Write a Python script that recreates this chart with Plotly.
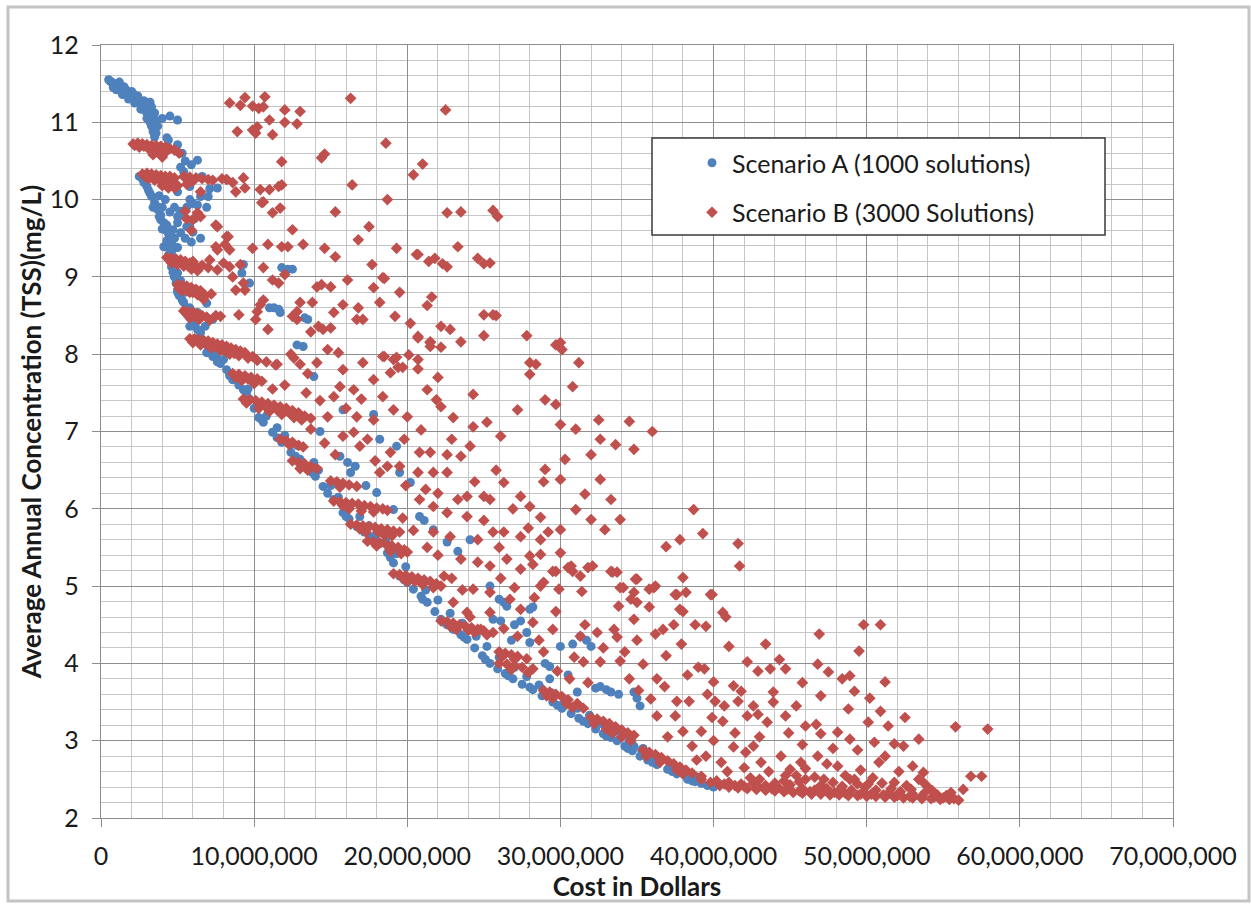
import numpy as np
import plotly.graph_objects as go

# Scenario A: (cost in millions of dollars, average annual TSS in mg/L)
scenario_a = [
    # low-cost upper band
    (0.5, 11.55), (0.6, 11.53), (0.7, 11.52), (0.8, 11.5), (0.9, 11.5), (1.0, 11.48), (1.1, 11.47),
    (1.2, 11.45), (1.3, 11.43), (1.4, 11.42), (1.5, 11.4), (1.6, 11.38), (1.7, 11.38), (1.8, 11.36),
    (1.9, 11.35), (2.0, 11.33), (2.1, 11.33), (2.2, 11.3), (2.3, 11.3), (2.4, 11.27), (2.5, 11.25),
    (2.6, 11.22), (2.7, 11.2), (2.8, 11.18), (2.9, 11.15), (3.0, 11.12), (3.1, 11.1), (3.2, 11.07),
    (3.3, 11.04), (3.4, 10.98), (3.5, 10.92), (3.6, 10.86), (1.2, 11.52), (1.6, 11.43), (2.0, 11.4),
    (2.4, 11.34), (2.8, 11.28), (3.1, 11.25), (3.3, 11.2), (3.5, 11.12), (3.2, 11.0), (3.4, 10.88),
    (3.2, 11.26), (3.6, 11.02), (3.7, 10.95),
    (0.8, 11.45), (1.0, 11.42), (1.4, 11.36), (1.8, 11.3), (2.2, 11.25), (2.6, 11.17), (3.0, 11.05),
    (3.3, 10.95), (3.5, 10.85), (2.1, 11.37), (2.7, 11.25), (1.5, 11.46),
    (4.0, 11.05), (4.5, 11.08), (5.0, 11.03), (3.5, 10.81), (4.3, 10.8), (4.4, 10.77), (5.0, 10.71),
    (5.3, 10.6), (6.3, 10.51), (5.2, 10.42), (5.4, 10.36), (5.8, 10.17), (7.1, 10.14), (7.6, 10.15),
    (6.5, 10.04), (7.0, 10.04), (5.8, 10.0), (6.3, 9.93), (6.9, 9.9), (6.0, 9.95),
    # trade-off front
    (2.5, 10.3), (2.7, 10.27), (3.0, 10.17), (3.1, 10.12), (3.3, 10.04), (3.5, 9.96), (3.6, 9.92),
    (3.7, 9.87), (3.9, 9.8), (3.9, 9.74), (4.1, 9.7), (4.2, 9.61), (4.4, 9.56), (4.5, 9.52),
    (4.1, 9.39), (4.6, 9.31), (4.6, 9.2), (4.6, 9.13), (4.8, 9.0), (4.9, 8.92), (5.0, 8.83),
    (5.3, 8.7), (5.5, 8.58), (5.8, 8.47), (6.1, 8.38), (6.5, 8.28), (6.9, 8.12), (7.3, 7.97),
    (7.8, 7.88), (8.2, 7.8), (8.6, 7.67), (9.0, 7.6), (9.3, 7.54), (9.7, 7.42), (10.0, 7.3),
    (10.3, 7.18), (10.6, 7.12), (11.2, 6.99), (11.8, 6.86), (12.4, 6.73), (13.0, 6.64), (13.5, 6.55),
    (14.0, 6.42), (14.5, 6.29), (15.2, 6.12), (15.8, 5.95), (16.2, 5.87), (16.7, 5.77), (17.2, 5.7),
    (17.6, 5.64), (18.2, 5.55), (18.7, 5.43), (19.1, 5.3), (19.5, 5.13), (20.0, 5.05), (20.4, 4.96),
    (20.9, 4.87), (21.3, 4.79), (21.8, 4.67), (22.2, 4.57), (22.6, 4.5), (23.0, 4.44), (23.5, 4.37),
    (23.9, 4.31), (24.4, 4.2), (24.9, 4.1), (25.4, 4.0), (25.9, 3.93), (26.4, 3.87), (26.9, 3.8),
    (27.5, 3.73), (28.2, 3.66), (28.8, 3.58), (29.5, 3.5), (30.1, 3.42), (30.7, 3.35), (31.2, 3.29),
    (31.8, 3.22), (32.3, 3.15), (32.8, 3.09), (33.3, 3.04), (33.7, 3.0), (34.2, 2.93), (34.7, 2.87),
    (35.2, 2.8), (35.7, 2.75), (36.3, 2.69), (37.0, 2.63), (37.6, 2.57), (38.3, 2.5), (38.8, 2.47),
    (39.2, 2.45), (39.6, 2.42), (40.0, 2.4),
    (2.8, 10.22), (3.2, 10.08), (3.4, 9.9), (3.8, 9.78), (4.0, 9.62), (4.3, 9.47), (4.4, 9.28),
    (4.7, 9.06), (5.1, 8.76), (5.6, 8.52), (6.3, 8.32), (7.1, 8.02), (7.6, 7.9), (8.4, 7.72),
    (9.5, 7.48), (10.5, 7.15), (11.5, 6.92), (12.7, 6.68), (13.8, 6.47), (14.8, 6.2), (16.0, 5.9),
    (17.0, 5.73), (17.9, 5.6), (18.9, 5.37), (19.8, 5.08), (21.0, 4.83), (22.4, 4.53), (23.7, 4.34),
    (25.1, 4.05), (26.6, 3.84), (28.0, 3.69), (29.8, 3.46), (31.5, 3.25), (33.0, 3.06), (34.4, 2.9),
    (36.0, 2.72), (37.3, 2.6), (38.6, 2.48),
    # just above the front
    (4.6, 9.45), (4.9, 9.38), (5.0, 9.05), (5.2, 8.95), (5.5, 8.8), (5.8, 8.6), (6.0, 8.54),
    (6.3, 8.45), (6.8, 8.36), (7.1, 8.06), (7.5, 8.0), (8.0, 7.93), (8.4, 7.75), (9.0, 7.7),
    (9.6, 7.55), (10.2, 7.35), (10.8, 7.2), (11.5, 7.05), (12.0, 6.95), (12.8, 6.82), (13.9, 6.6),
    (14.2, 6.5), (15.0, 6.3), (15.5, 6.15), (16.1, 6.02), (16.9, 5.9), (17.5, 5.78), (18.0, 5.68),
    (18.6, 5.58), (19.3, 5.42), (19.9, 5.25), (20.6, 5.08), (21.2, 4.95), (22.0, 4.82), (22.8, 4.65),
    (23.6, 4.52), (24.5, 4.35), (25.2, 4.22), (26.0, 4.08), (27.0, 3.95), (27.8, 3.83), (28.6, 3.72),
    (29.4, 3.62), (30.3, 3.52), (31.1, 3.42), (31.9, 3.33), (32.7, 3.22), (33.6, 3.12), (34.5, 3.0),
    (35.4, 2.9), (36.3, 2.8), (37.2, 2.7), (38.0, 2.62), (38.9, 2.53), (34.8, 2.93), (35.3, 2.88),
    (35.7, 2.84), (36.1, 2.8),
    # scattered solutions
    (9.3, 9.16), (11.8, 9.12), (12.5, 9.1), (9.2, 9.05), (9.7, 8.92), (11.0, 8.6), (11.6, 8.58),
    (11.7, 8.54), (13.3, 8.47), (13.5, 8.45), (12.8, 8.12), (13.2, 8.1), (13.9, 7.71), (15.8, 7.28),
    (17.8, 7.22), (18.2, 6.9), (19.3, 6.81), (19.5, 6.47), (20.2, 6.34), (16.1, 6.6), (16.3, 6.47),
    (18.0, 6.21), (19.1, 5.99), (20.8, 5.9), (21.7, 5.73), (22.6, 5.57), (24.1, 5.6), (25.4, 5.0),
    (26.3, 4.79), (28.0, 4.7), (25.6, 4.57), (15.6, 6.68), (26.0, 4.83), (26.5, 4.74), (26.1, 4.55),
    (27.4, 4.55), (27.8, 4.4), (28.0, 4.27), (28.2, 4.73), (29.3, 3.96), (29.3, 3.8), (30.0, 4.22),
    (30.8, 4.25), (31.1, 3.63), (31.3, 4.35), (31.7, 4.3), (32.0, 4.22), (32.6, 3.7), (33.0, 3.66),
    (33.3, 3.63), (34.8, 3.63), (35.0, 3.55), (35.2, 3.45), (4.5, 9.22), (4.8, 9.0), (5.0, 8.8),
    (5.4, 8.67), (5.9, 8.55), (6.3, 8.54), (5.8, 8.36), (6.3, 8.2), (6.9, 8.02), (7.5, 7.97),
    (4.2, 9.39), (4.6, 9.35), (5.0, 9.38), (4.2, 9.64), (4.7, 9.61), (5.2, 9.57), (5.8, 9.65),
    (6.0, 9.58), (6.5, 9.5), (4.5, 9.84), (5.0, 9.78), (5.4, 9.8), (4.3, 9.67), (5.0, 9.7),
    (5.6, 9.65), (6.9, 8.66), (7.3, 8.45),
    (4.8, 9.9), (5.2, 9.85), (5.6, 9.9), (6.1, 9.75), (5.5, 9.5), (5.9, 9.45), (4.8, 9.5),
    (3.8, 10.05), (4.2, 10.0), (4.0, 9.9), (5.5, 10.5), (5.9, 10.45), (6.6, 10.3), (5.0, 10.1),
    (12.2, 9.1), (11.3, 8.6), (14.3, 7.0), (16.6, 6.55), (17.3, 6.3), (21.1, 5.85), (23.3, 5.45),
    (27.0, 4.5), (29.0, 4.0), (30.5, 3.85), (32.3, 3.68), (33.8, 3.6), (26.8, 4.3),
]

# Scenario B: (cost in millions of dollars, average annual TSS in mg/L)
scenario_b = [
    # clustered solution bands
    (2.1, 10.72), (2.4, 10.73), (2.7, 10.72), (3.0, 10.71), (3.3, 10.7), (3.6, 10.7), (3.9, 10.69),
    (4.2, 10.68), (2.5, 10.68), (3.1, 10.66), (3.5, 10.64), (4.5, 10.66), (4.8, 10.64), (5.1, 10.6),
    (3.8, 10.6), (3.4, 10.58), (4.0, 10.55), (2.2, 10.7), (2.8, 10.69), (3.7, 10.66), (4.3, 10.63),
    (2.7, 10.33), (3.0, 10.34), (3.3, 10.33), (3.6, 10.32), (3.9, 10.31), (4.2, 10.3), (4.5, 10.3),
    (4.8, 10.28), (3.1, 10.27), (3.5, 10.25), (3.9, 10.24), (4.3, 10.22), (4.7, 10.2), (5.0, 10.18),
    (4.4, 10.15), (4.0, 10.18), (5.4, 10.3), (5.8, 10.29), (6.2, 10.28), (6.6, 10.27), (7.0, 10.26),
    (7.3, 10.25), (7.9, 10.27), (8.2, 10.26), (8.6, 10.22), (5.6, 10.2), (6.5, 10.1),
    (2.9, 10.3), (3.4, 10.29), (3.8, 10.27), (4.6, 10.25), (4.1, 10.21), (4.8, 10.15), (6.0, 10.24),
    (6.3, 9.83), (6.0, 9.74), (6.5, 9.78), (7.5, 9.67), (8.2, 9.52), (8.1, 9.42), (7.6, 9.35),
    (5.5, 9.85), (5.6, 9.75), (5.9, 9.6),
    (4.3, 9.25), (4.6, 9.24), (4.9, 9.23), (5.2, 9.22), (5.5, 9.2), (5.8, 9.18), (6.1, 9.16),
    (4.6, 9.18), (5.0, 9.16), (5.4, 9.14), (5.9, 9.1), (6.3, 9.08), (6.6, 9.15), (7.0, 9.12),
    (4.5, 9.21), (5.1, 9.19), (5.7, 9.14), (6.0, 9.2),
    (5.0, 8.9), (5.3, 8.89), (5.6, 8.88), (5.9, 8.86), (6.2, 8.84), (6.5, 8.82), (5.3, 8.82),
    (5.8, 8.8), (6.3, 8.77), (6.8, 8.76), (7.2, 8.78), (5.1, 8.85), (5.6, 8.83), (6.0, 8.8),
    (5.4, 8.56), (5.7, 8.55), (6.0, 8.54), (6.3, 8.52), (6.6, 8.5), (6.9, 8.48), (5.8, 8.47),
    (6.4, 8.45), (7.1, 8.44), (7.5, 8.5), (5.6, 8.52), (6.1, 8.49),
    (5.8, 8.2), (6.1, 8.2), (6.4, 8.19), (6.7, 8.18), (7.0, 8.17), (7.3, 8.15), (7.6, 8.13),
    (7.9, 8.12), (8.2, 8.1), (8.5, 8.08), (8.8, 8.06), (9.1, 8.04), (9.4, 8.02), (6.5, 8.12),
    (7.2, 8.08), (7.8, 8.05), (8.4, 8.0), (9.0, 7.98), (9.6, 7.95), (10.2, 7.92), (10.8, 7.9),
    (11.4, 7.86), (6.0, 8.15), (6.9, 8.13), (7.5, 8.1), (8.1, 8.04), (8.7, 8.01), (9.9, 7.97),
    (8.6, 7.75), (9.0, 7.74), (9.4, 7.72), (9.8, 7.7), (10.2, 7.68), (10.5, 7.65), (9.2, 7.66),
    (10.0, 7.62), (8.8, 7.7), (9.6, 7.68),
    (9.3, 7.42), (9.7, 7.41), (10.1, 7.4), (10.5, 7.38), (10.9, 7.36), (11.3, 7.34), (11.7, 7.32),
    (12.1, 7.3), (12.5, 7.27), (12.9, 7.24), (13.3, 7.2), (13.7, 7.17), (10.3, 7.3), (11.0, 7.26),
    (11.8, 7.22), (12.6, 7.18), (9.5, 7.37), (10.7, 7.33), (11.5, 7.28), (12.3, 7.24), (13.1, 7.15),
    (11.7, 6.9), (12.1, 6.88), (12.5, 6.86), (12.9, 6.82), (13.2, 6.8), (12.3, 6.83),
    (12.5, 6.62), (12.9, 6.6), (13.3, 6.58), (13.7, 6.55), (14.1, 6.52), (13.0, 6.52), (13.5, 6.5),
    (15.0, 6.36), (15.4, 6.35), (15.8, 6.33), (16.2, 6.31), (16.7, 6.29), (15.6, 6.28),
    (15.2, 6.1), (15.6, 6.09), (16.0, 6.08), (16.4, 6.07), (16.8, 6.06), (17.2, 6.04), (17.6, 6.03),
    (18.0, 6.01), (18.4, 6.0), (18.7, 5.98), (16.2, 6.0), (17.0, 5.97), (15.8, 6.04), (17.8, 5.96),
    (16.3, 5.8), (16.7, 5.79), (17.1, 5.78), (17.5, 5.77), (17.9, 5.76), (18.3, 5.74), (18.7, 5.73),
    (19.1, 5.71), (19.5, 5.7), (17.3, 5.7), (18.5, 5.66), (16.9, 5.74), (18.1, 5.7), (19.0, 5.65),
    (17.4, 5.58), (17.8, 5.57), (18.2, 5.56), (18.6, 5.54), (19.0, 5.52), (19.4, 5.5), (19.8, 5.47),
    (20.0, 5.44), (18.9, 5.45), (18.0, 5.52), (19.6, 5.42),
    (19.1, 5.16), (19.5, 5.15), (19.9, 5.14), (20.3, 5.12), (20.7, 5.1), (21.1, 5.08), (21.5, 5.06),
    (21.9, 5.03), (22.2, 5.0), (20.0, 5.06), (21.0, 5.02), (19.7, 5.1), (20.5, 5.06), (21.7, 4.98),
    (22.2, 4.55), (22.6, 4.54), (23.0, 4.52), (23.4, 4.5), (23.8, 4.48), (24.2, 4.46), (24.6, 4.44),
    (25.0, 4.42), (25.6, 4.4), (23.2, 4.44), (24.4, 4.4), (22.8, 4.48), (24.0, 4.43), (25.2, 4.37),
    (26.0, 4.15), (26.4, 4.13), (26.8, 4.11), (27.2, 4.09), (27.8, 4.06), (26.2, 4.09), (27.0, 4.05),
    (26.0, 4.0), (26.5, 3.99), (27.0, 3.97), (27.5, 3.95), (28.2, 3.93), (26.8, 3.92), (27.9, 3.88),
    (28.9, 3.65), (29.3, 3.63), (29.7, 3.6), (30.1, 3.57), (30.5, 3.53), (31.1, 3.48), (29.5, 3.55),
    (30.4, 3.48), (29.1, 3.58), (30.8, 3.43), (31.5, 3.42),
    (32.0, 3.3), (32.4, 3.28), (32.8, 3.25), (33.2, 3.22), (33.6, 3.18), (34.0, 3.14), (34.4, 3.1),
    (34.8, 3.07), (33.0, 3.15), (34.0, 3.05), (32.2, 3.22), (33.4, 3.1), (34.6, 3.0),
    (35.4, 2.88), (35.8, 2.85), (36.2, 2.82), (36.6, 2.78), (37.0, 2.74), (37.4, 2.7), (37.8, 2.66),
    (38.2, 2.62), (38.6, 2.58), (39.2, 2.54), (36.5, 2.72), (37.6, 2.62), (35.6, 2.8), (38.0, 2.57),
    # high-cost floor
    (39.2, 2.5), (39.8, 2.46), (40.4, 2.42), (41.0, 2.4), (41.6, 2.39), (42.2, 2.38), (42.8, 2.37),
    (43.4, 2.36), (44.0, 2.35), (44.6, 2.34), (45.2, 2.33), (45.8, 2.32), (46.4, 2.31), (47.0, 2.31),
    (47.6, 2.3), (48.2, 2.3), (48.8, 2.29), (49.4, 2.29), (50.0, 2.28), (50.6, 2.28), (51.2, 2.27),
    (51.8, 2.27), (52.4, 2.26), (53.0, 2.26), (53.6, 2.25), (54.2, 2.25), (54.8, 2.24), (55.4, 2.24),
    (56.0, 2.23),
    (40.2, 2.48), (41.0, 2.46), (41.8, 2.44), (42.6, 2.45), (43.4, 2.42), (44.2, 2.4), (45.0, 2.43),
    (45.8, 2.38), (46.6, 2.36), (47.4, 2.38), (48.2, 2.35), (49.0, 2.36), (49.8, 2.34), (50.6, 2.36),
    (51.4, 2.32), (52.2, 2.34), (53.0, 2.31), (53.8, 2.33), (54.6, 2.3), (55.2, 2.29), (43.0, 2.5),
    (44.6, 2.48), (46.0, 2.5), (47.8, 2.46), (49.4, 2.44), (51.0, 2.45), (52.6, 2.42), (54.0, 2.4),
    (45.4, 2.55), (48.6, 2.55), (50.4, 2.52), (53.4, 2.5),
    (40.7, 2.44), (41.4, 2.42), (42.0, 2.41), (42.9, 2.4), (43.8, 2.38), (44.8, 2.37), (45.6, 2.35),
    (46.3, 2.34), (47.1, 2.33), (47.9, 2.33), (48.6, 2.32), (49.6, 2.31), (50.3, 2.31), (51.1, 2.3),
    (52.0, 2.29), (52.8, 2.28), (53.6, 2.28), (54.4, 2.27), (55.0, 2.26), (55.7, 2.25),
    (44.0, 2.45), (45.6, 2.47), (47.0, 2.42), (48.4, 2.41), (49.9, 2.4), (51.6, 2.38), (52.9, 2.37),
    (54.3, 2.35), (46.6, 2.53), (49.2, 2.5), (42.4, 2.52), (55.5, 2.33),
    # scattered solutions, upper left
    (8.4, 11.25), (9.1, 11.22), (9.4, 11.32), (9.9, 11.21), (10.7, 11.33), (10.3, 11.18), (10.6, 11.2),
    (12.0, 11.16), (13.0, 11.14), (16.3, 11.31), (8.9, 10.88), (9.9, 10.9), (10.1, 10.86),
    (10.2, 10.94), (11.0, 11.03), (11.2, 10.84), (12.0, 11.0), (12.8, 10.98), (11.8, 10.49),
    (14.4, 10.54), (14.6, 10.59), (18.6, 10.73), (16.4, 10.19), (18.7, 10.0), (15.3, 9.84),
    (20.4, 10.32), (21.0, 10.46), (8.2, 10.26), (9.3, 10.28), (9.4, 10.15), (8.8, 10.1),
    (10.4, 10.13), (11.0, 10.13), (11.6, 10.17), (11.8, 10.19), (10.6, 9.97), (10.5, 9.96),
    (11.7, 9.89), (11.2, 9.83), (7.6, 9.65), (8.3, 9.52), (12.5, 9.61), (17.5, 9.65), (16.8, 9.48),
    (7.5, 9.39), (8.4, 9.35), (9.9, 9.37), (10.9, 9.42), (11.8, 9.39), (12.2, 9.39), (13.2, 9.42),
    (14.6, 9.37), (15.3, 9.26), (19.3, 9.37), (17.7, 9.16), (20.6, 9.29), (7.1, 9.22), (8.0, 9.18),
    (8.4, 9.13), (9.1, 9.16), (7.6, 9.09), (10.6, 9.12), (11.2, 8.96), (11.6, 8.92), (12.0, 9.03),
    (14.1, 8.87), (14.4, 8.9), (15.0, 8.87), (16.1, 8.96), (17.8, 8.86), (18.4, 8.99), (19.5, 8.8),
    (8.6, 9.0), (8.8, 8.83), (9.3, 8.92), (9.4, 8.83), (10.6, 8.7), (13.8, 8.67), (15.2, 8.54),
    (16.8, 8.6), (18.2, 8.67), (19.2, 8.49), (10.2, 8.55), (12.5, 8.49), (12.8, 8.55),
    # scattered solutions, upper middle
    (22.5, 11.16), (22.6, 9.83), (23.5, 9.84), (25.6, 9.86), (25.9, 9.78), (20.7, 9.29),
    (21.4, 9.2), (21.8, 9.24), (22.3, 9.17), (22.6, 9.13), (23.3, 9.39), (24.6, 9.24), (25.0, 9.17),
    (25.4, 9.18), (18.5, 8.98), (21.6, 8.74), (21.3, 8.63), (20.2, 8.4), (22.2, 8.36), (22.8, 8.32),
    (23.5, 8.16), (25.0, 8.51), (25.8, 8.5), (25.0, 8.24), (20.7, 8.21), (21.5, 8.15), (21.5, 8.1),
    (22.2, 8.09), (20.1, 7.99), (18.5, 7.97), (19.3, 7.96), (20.7, 7.93), (18.9, 7.76), (19.4, 7.83),
    (20.7, 7.81), (22.0, 7.7), (27.8, 8.24), (30.0, 8.15), (28.4, 7.87), (28.0, 7.74), (31.2, 7.89),
    (30.8, 7.58),
    # scattered solutions, middle
    (6.7, 8.71), (7.8, 8.49), (9.0, 8.51), (10.1, 8.45), (10.4, 8.64), (10.9, 8.32), (12.8, 8.45),
    (13.0, 8.67), (13.7, 8.29), (14.2, 8.36), (14.5, 8.32), (15.0, 8.34), (15.8, 8.64), (16.7, 8.45),
    (17.1, 8.45), (20.7, 8.23), (21.5, 8.16), (25.6, 8.51), (11.5, 7.87), (12.4, 8.0), (13.0, 7.87),
    (14.1, 7.89), (14.8, 8.06), (15.5, 8.02), (15.8, 7.8), (17.1, 7.89), (18.4, 7.97), (19.1, 7.93),
    (19.7, 7.83), (17.8, 7.67), (16.5, 7.54), (15.6, 7.58), (15.2, 7.45), (18.4, 7.45), (21.3, 7.54),
    (21.9, 7.41), (22.2, 7.32), (24.3, 7.48), (27.2, 7.28), (28.0, 7.89), (25.2, 7.12), (26.1, 6.94),
    (24.3, 7.06), (23.0, 7.18), (20.0, 7.19), (19.1, 7.28), (17.8, 7.15), (14.8, 7.19), (16.7, 7.19),
    (13.7, 7.03), (15.8, 6.94), (16.5, 6.99), (16.9, 6.81), (17.4, 6.9), (18.9, 6.73), (20.8, 6.73),
    (21.5, 6.73), (22.6, 6.7), (23.5, 6.68), (24.1, 6.81), (26.3, 6.34), (27.4, 6.16), (28.9, 6.35),
    (28.7, 5.89), (28.0, 6.03), (25.4, 6.12), (25.0, 6.16), (23.9, 6.16), (22.6, 6.47), (21.7, 6.47),
    (20.7, 6.47), (19.5, 6.55), (18.7, 6.55), (18.2, 6.47), (20.8, 6.12), (21.7, 6.03), (22.6, 5.95),
    (23.3, 6.12), (21.7, 5.7), (22.8, 5.64), (24.6, 5.6), (25.6, 5.7), (26.3, 5.7), (27.4, 5.64),
    (29.2, 5.7), (23.5, 5.35), (24.6, 5.31), (25.4, 5.26), (26.5, 5.35), (27.4, 5.22), (28.7, 5.0),
    (22.4, 5.13), (24.3, 4.96), (25.4, 4.92), (26.7, 4.83), (27.4, 4.7), (28.2, 4.53), (23.0, 4.79),
    (23.9, 4.66), (25.4, 4.66), (24.8, 4.44),
    (29.7, 8.12), (30.1, 8.06), (29.0, 7.41), (29.7, 7.35), (30.0, 7.09), (31.0, 7.03), (32.5, 7.15),
    (32.6, 6.9), (33.6, 6.83), (32.0, 6.7), (30.3, 6.64), (29.0, 6.51), (30.0, 6.38), (31.6, 6.19),
    (32.6, 6.38), (33.3, 6.12), (31.0, 5.99), (32.0, 5.86), (32.9, 5.73), (33.9, 5.86), (30.0, 5.73),
    (28.7, 5.6),
    (11.2, 7.55), (12.0, 7.6), (13.4, 7.5), (14.3, 7.4), (12.6, 7.95), (13.5, 7.75), (16.0, 7.3),
    (17.0, 7.42), (14.6, 6.85), (15.3, 6.7), (17.9, 6.62), (19.8, 6.9), (20.9, 7.02), (22.9, 6.9),
    (19.9, 6.3), (21.2, 6.25), (22.0, 6.2), (24.4, 6.35), (25.8, 6.5), (26.9, 6.0), (19.7, 5.88),
    (20.4, 5.72), (21.3, 5.5), (22.0, 5.4), (23.9, 5.9), (25.0, 5.85), (26.0, 5.5), (27.9, 5.75),
    (22.9, 5.1), (23.6, 4.95), (26.1, 5.1), (27.0, 4.98), (28.3, 4.85), (24.1, 4.6), (26.3, 4.45),
    (27.2, 4.35), (28.6, 4.3), (28.9, 4.15), (29.8, 3.9), (30.6, 3.8), (31.8, 3.75), (30.9, 4.08),
    # scattered solutions, right
    (34.5, 7.13), (36.0, 7.0), (34.8, 6.77), (38.7, 5.99), (39.3, 5.68), (37.8, 5.6), (36.9, 5.51),
    (41.6, 5.55), (41.7, 5.26), (38.0, 5.11), (35.0, 5.09), (36.2, 5.0), (34.8, 4.92), (37.6, 4.89),
    (38.2, 4.92), (39.9, 4.89),
    (28.0, 5.39), (28.7, 5.41), (28.2, 5.28), (29.7, 5.19), (30.5, 5.24), (30.8, 5.19), (31.3, 5.13),
    (32.1, 5.26), (33.3, 5.19), (33.7, 5.18), (34.9, 5.09), (36.1, 4.98), (28.9, 5.05), (29.9, 4.96),
    (31.4, 4.93), (33.9, 4.98), (39.8, 4.89), (33.8, 4.74), (35.0, 4.79), (35.8, 4.73), (37.8, 4.7),
    (37.5, 4.89), (29.7, 4.67), (31.6, 4.5), (34.8, 4.57), (36.2, 4.38), (36.7, 4.44), (37.4, 4.5),
    (38.8, 4.5), (39.5, 4.48), (40.6, 4.66), (40.8, 4.6), (41.0, 4.22), (43.4, 4.25), (46.9, 4.38),
    (49.8, 4.5), (50.9, 4.5), (49.5, 4.16), (42.2, 4.02), (42.9, 3.9), (43.7, 3.93), (44.7, 3.93),
    (46.8, 3.99), (47.5, 3.89), (48.4, 3.8), (48.9, 3.84), (49.2, 3.64), (51.2, 3.76), (48.8, 3.41),
    (47.0, 3.58), (43.9, 3.63), (43.9, 3.5), (41.3, 3.71), (41.8, 3.64), (39.0, 3.95), (39.4, 3.93),
    (40.0, 3.76), (40.7, 3.45), (40.1, 3.51), (41.6, 3.51), (42.2, 3.32), (42.9, 3.34), (43.5, 3.24),
    (44.7, 3.32), (46.0, 3.19), (46.7, 3.21), (47.0, 3.09), (48.1, 3.11), (48.9, 3.02), (50.1, 3.24),
    (50.9, 3.38), (51.4, 3.19), (52.5, 3.3), (50.5, 2.98), (51.8, 2.96), (52.4, 2.93), (53.4, 3.02),
    (53.0, 2.67), (53.7, 2.59), (55.8, 3.18), (57.9, 3.15), (56.8, 2.54), (57.5, 2.54), (56.3, 2.37),
    (48.1, 2.67), (46.8, 2.8), (45.7, 2.72), (44.4, 2.8), (45.0, 2.63), (43.1, 2.72), (42.1, 2.85),
    (41.3, 2.92), (42.6, 2.93), (40.0, 3.0), (39.5, 2.8), (40.5, 2.72), (47.2, 2.5), (48.9, 2.5),
    (51.8, 2.46), (53.7, 2.46), (50.1, 2.44),
    (30.0, 5.43), (29.5, 5.19), (30.7, 5.26), (31.8, 5.24), (33.4, 5.18), (34.1, 4.98), (35.8, 4.96),
    (34.6, 4.83), (38.0, 4.67), (29.5, 4.44), (31.3, 4.35), (32.4, 4.4), (33.5, 4.44), (33.7, 4.34),
    (31.5, 4.02), (32.6, 4.02), (33.9, 4.03), (35.4, 3.99), (36.3, 3.8), (35.9, 3.54), (37.6, 3.51),
    (38.4, 3.51), (37.5, 3.32), (36.3, 3.32), (38.0, 3.12), (39.2, 3.12), (38.6, 2.93),
    (32.8, 4.2), (34.2, 4.15), (35.0, 4.3), (36.9, 4.1), (37.9, 4.25), (38.3, 3.85), (34.5, 3.8),
    (35.1, 3.65), (36.8, 3.7), (39.6, 3.6), (40.6, 3.25), (41.4, 3.1), (39.9, 3.3), (37.0, 3.05),
    (38.9, 2.75), (40.9, 2.6), (42.0, 2.65), (43.6, 2.6), (44.7, 2.55), (46.0, 2.64), (47.4, 2.7),
    (49.6, 2.62), (50.8, 2.72), (52.1, 2.6), (43.0, 3.05), (44.9, 3.1), (45.8, 2.95), (49.4, 2.88),
    (51.2, 2.8), (47.8, 2.9), (42.6, 3.45), (45.4, 3.45), (45.8, 3.75), (50.2, 3.55), (44.3, 4.05),
]

legend_a = "Scenario A (1000 solutions)"
legend_b = "Scenario B (3000 Solutions)"
x_title = "Cost in Dollars"
y_title = "Average Annual Concentration (TSS)(mg/L)"

cost_a = np.array([p[0] for p in scenario_a]) * 1e6
tss_a = np.array([p[1] for p in scenario_a])
cost_b = np.array([p[0] for p in scenario_b]) * 1e6
tss_b = np.array([p[1] for p in scenario_b])

BLUE = "#4F81BD"
RED = "#C0504D"
FONT = "Lato, 'Open Sans', sans-serif"

fig = go.Figure()
fig.add_trace(go.Scatter(
    x=cost_a, y=tss_a, mode="markers", name=legend_a, legendgroup="a",
    marker=dict(symbol="circle", size=9, color=BLUE, line=dict(width=0)),
))
fig.add_trace(go.Scatter(
    x=cost_b, y=tss_b, mode="markers", name=legend_b, legendgroup="b",
    marker=dict(symbol="diamond", size=9, color=RED, line=dict(width=0)),
))

W, H = 1251, 909
L, R, T, B = 101, 78, 45, 91
pw, ph = W - L - R, H - T - B


def px_x(px):
    return (px - L) / pw


def px_y(py):
    return (H - B - py) / ph


# outer chart frame
fig.add_shape(type="rect", xref="paper", yref="paper",
              x0=px_x(8), x1=px_x(1249), y0=px_y(901), y1=px_y(7),
              line=dict(color="#C4C4C4", width=3), layer="below")
# legend frame
fig.add_shape(type="rect", xref="paper", yref="paper",
              x0=px_x(652), x1=px_x(1105), y0=px_y(235), y1=px_y(138),
              line=dict(color="#3A3A3A", width=1.5), fillcolor="white", layer="above")

axis_common = dict(
    showgrid=True, gridcolor="#8E8E8E", gridwidth=1.3,
    showline=True, linecolor="#8E8E8E", linewidth=1.3, mirror=True,
    ticks="outside", ticklen=8, tickcolor="#8E8E8E", tickwidth=1.3,
    zeroline=False, ticklabelstandoff=8,
    tickfont=dict(family=FONT, size=25, color="#1A1A1A"),
)

fig.update_xaxes(
    range=[0, 7e7], dtick=1e7, tick0=0, tickformat=",d",
    minor=dict(dtick=2e6, showgrid=True, gridcolor="#C6C6C6", gridwidth=1.3, ticks=""),
    title=dict(text=x_title, font=dict(family=FONT, size=26, color="#1A1A1A", weight="bold"), standoff=6),
    **axis_common,
)
fig.update_yaxes(
    range=[2, 12], dtick=1, tick0=2,
    minor=dict(dtick=0.2, showgrid=True, gridcolor="#C6C6C6", gridwidth=1.3, ticks=""),
    title=dict(text=y_title, font=dict(family=FONT, size=26, color="#1A1A1A", weight="bold"), standoff=0),
    **axis_common,
)

fig.update_layout(
    width=W, height=H,
    margin=dict(l=L, r=R, t=T, b=B, pad=0),
    paper_bgcolor="white", plot_bgcolor="white",
    font=dict(family=FONT, color="#1A1A1A"),
    showlegend=True,
    legend=dict(
        x=px_x(692), y=px_y(140), xanchor="left", yanchor="top",
        bgcolor="rgba(0,0,0,0)", borderwidth=0,
        font=dict(family=FONT, size=25, color="#1A1A1A"),
        traceorder="grouped", tracegroupgap=14, itemsizing="trace",
    ),
)

fig.write_html("out.html")
